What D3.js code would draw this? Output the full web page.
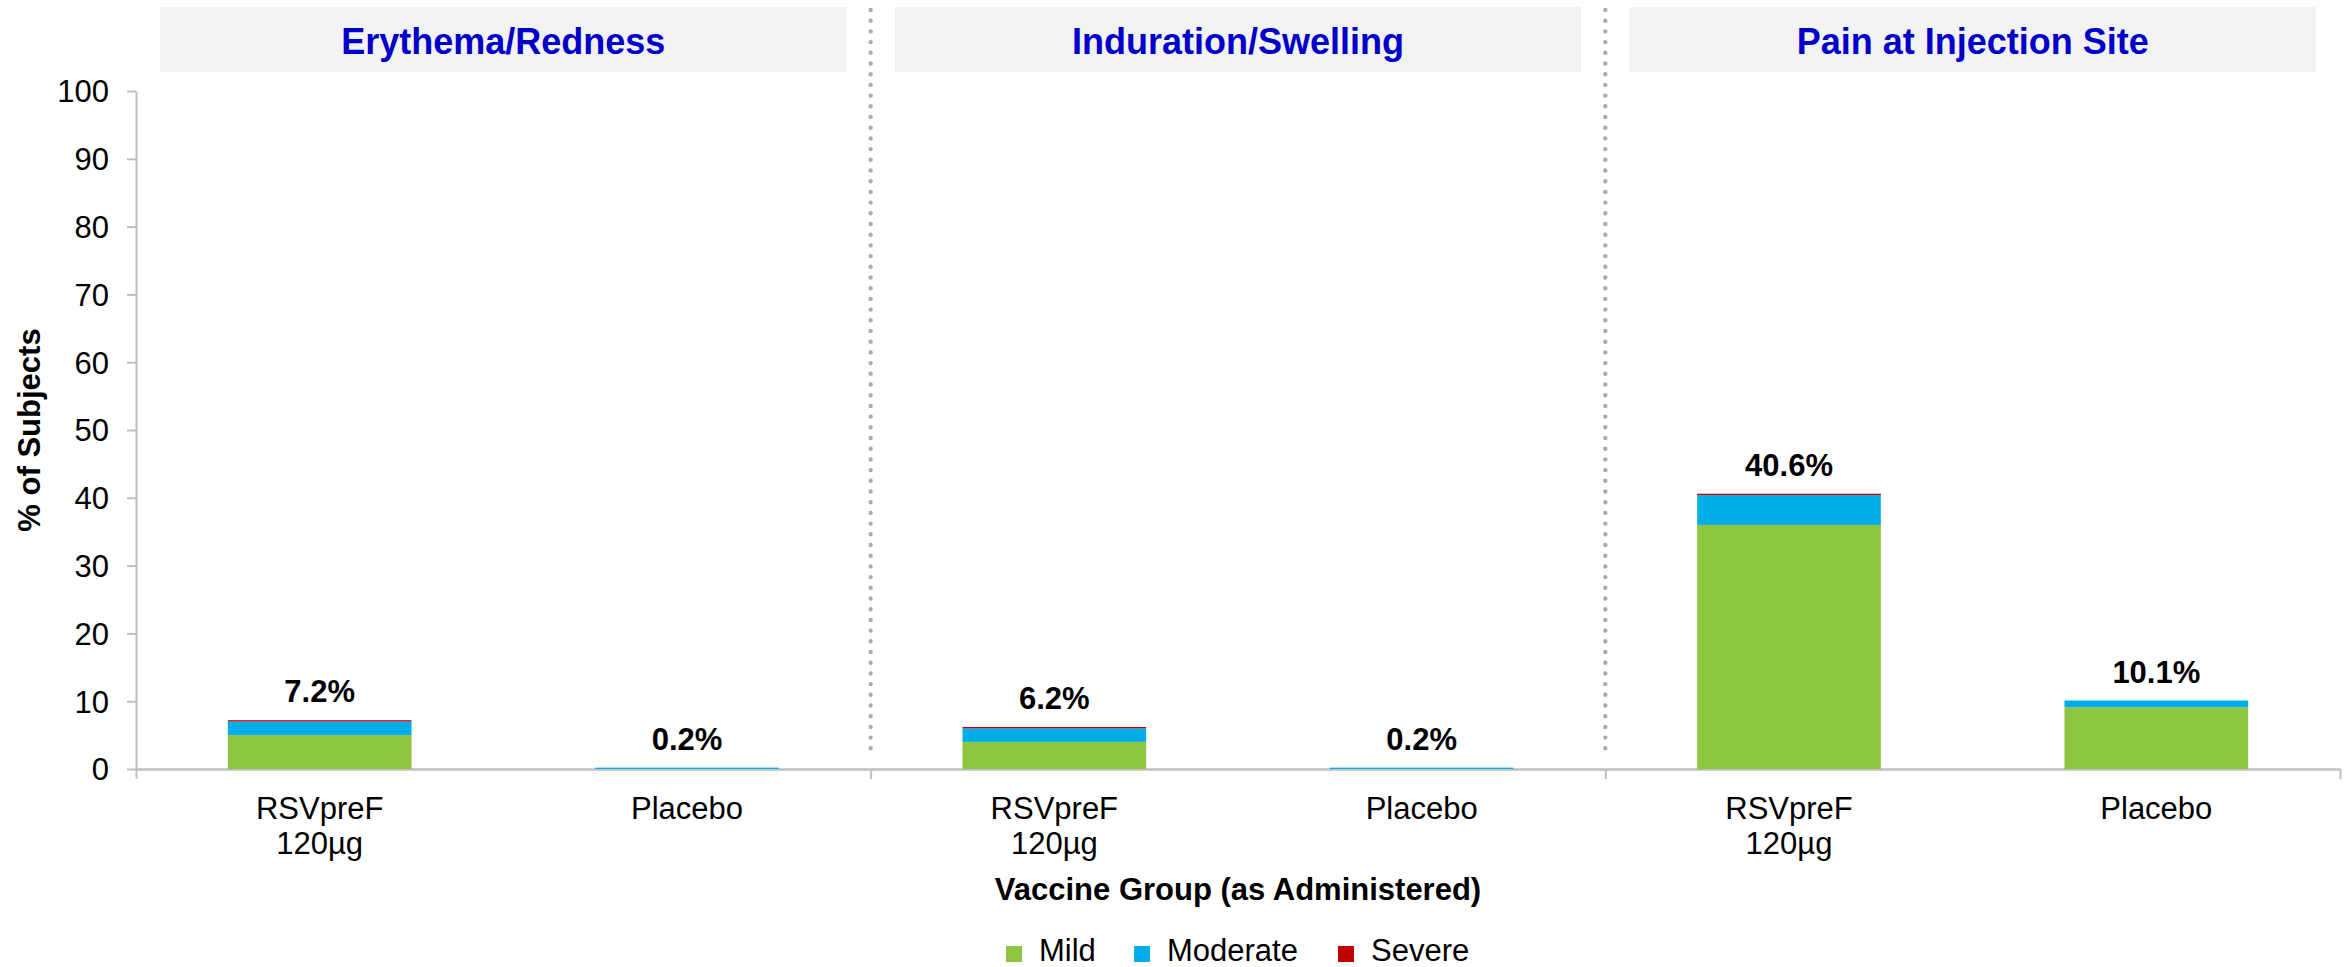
<!DOCTYPE html>
<html>
<head>
<meta charset="utf-8">
<script src="https://cdn.jsdelivr.net/npm/d3@7"></script>
<style>
  html, body { margin: 0; padding: 0; background: #ffffff; }
  svg { display: block; font-family: "Liberation Sans", Arial, sans-serif; }
</style>
</head>
<body>
<svg id="chart" width="2346" height="967"></svg>
<script>
// ---- Data ----
const panels = ["Erythema/Redness", "Induration/Swelling", "Pain at Injection Site"];
const groups = ["RSVpreF 120µg", "Placebo"];
const groupLines = [["RSVpreF", "120µg"], ["Placebo"]];
const severities = ["Mild", "Moderate", "Severe"];
const colors = ["#8DC63F", "#00ADE8", "#C00000"];
// values per panel, per group: [Mild, Moderate, Severe]
const mildValues     = [[5.0, 0.0], [4.0, 0.0], [36.0, 9.1]];
const moderateValues = [[2.0, 0.2], [2.0, 0.2], [4.4, 1.0]];
const severeValues   = [[0.2, 0.0], [0.2, 0.0], [0.2, 0.0]];
const totalLabels    = [["7.2%", "0.2%"], ["6.2%", "0.2%"], ["40.6%", "10.1%"]];
const yTicks = [0, 10, 20, 30, 40, 50, 60, 70, 80, 90, 100];
const yTitle = "% of Subjects";
const xTitle = "Vaccine Group (as Administered)";

// ---- Layout ----
const svg = d3.select("#chart");
const x0 = 136, x1 = 2340, yTop = 91, yBase = 769;
const FONT = 31;

const y = d3.scaleLinear().domain([0, 100]).range([yBase, yTop]);
const px = d3.scaleBand().domain(panels).range([x0, x1]).padding(0);
const gx = d3.scaleBand().domain(groups).range([0, px.bandwidth()]).paddingInner(0.5).paddingOuter(0.25);
const color = d3.scaleOrdinal().domain(severities).range(colors);

// Panel headers
panels.forEach((p, i) => {
  const cx = px(p) + px.bandwidth() / 2;
  svg.append("rect").attr("x", cx - 343).attr("y", 7).attr("width", 686).attr("height", 65)
     .attr("fill", "#F2F2F2");
  svg.append("text").attr("x", cx).attr("y", 54).attr("text-anchor", "middle")
     .attr("font-size", 36).attr("font-weight", "bold").attr("fill", "#0000C8").text(p);
});

// Dotted dividers
panels.slice(1).forEach(p => {
  svg.append("line").attr("x1", px(p)).attr("x2", px(p)).attr("y1", 10).attr("y2", 758)
     .attr("stroke", "#ABABAB").attr("stroke-width", 4.4).attr("stroke-linecap", "round")
     .attr("stroke-dasharray", "0 10.7");
});

// Y axis
const yAxis = d3.axisLeft(y).tickValues(yTicks).tickSize(9).tickPadding(18).tickSizeOuter(0);
const yg = svg.append("g").attr("transform", `translate(${x0},0)`).call(yAxis);
yg.select(".domain").attr("stroke", "#BFBFBF").attr("stroke-width", 2);
yg.selectAll(".tick line").attr("stroke", "#BFBFBF").attr("stroke-width", 2);
yg.selectAll(".tick text").attr("font-size", FONT).attr("fill", "#000")
  .attr("font-family", "'Liberation Sans', Arial, sans-serif").attr("dy", "0.35em");

// X axis baseline with panel boundary ticks
const boundaries = panels.map(p => px(p)).concat([x1]);
const xAxisScale = d3.scaleLinear().domain([x0, x1]).range([x0, x1]);
const xg = svg.append("g").attr("transform", `translate(0,${yBase})`)
  .call(d3.axisBottom(xAxisScale).tickValues(boundaries).tickSize(10).tickSizeOuter(0).tickFormat(""));
xg.select(".domain").attr("stroke", "#BFBFBF").attr("stroke-width", 2.5);
xg.selectAll(".tick line").attr("stroke", "#BFBFBF").attr("stroke-width", 2);

// Bars
panels.forEach((p, pi) => {
  groups.forEach((g, gi) => {
    const vals = [mildValues[pi][gi], moderateValues[pi][gi], severeValues[pi][gi]];
    const bx = px(p) + gx(g);
    let cum = 0;
    vals.forEach((v, si) => {
      if (v > 0) {
        svg.append("rect").attr("x", bx).attr("width", gx.bandwidth())
          .attr("y", y(cum + v)).attr("height", y(cum) - y(cum + v))
          .attr("fill", color(severities[si]));
      }
      cum += v;
    });
    const total = d3.sum(vals);
    svg.append("text").attr("x", bx + gx.bandwidth() / 2).attr("y", y(total) - 18)
      .attr("text-anchor", "middle").attr("font-size", FONT).attr("font-weight", "bold")
      .attr("fill", "#000").text(totalLabels[pi][gi]);
    // Category labels
    groupLines[gi].forEach((line, li) => {
      svg.append("text").attr("x", bx + gx.bandwidth() / 2).attr("y", 819 + li * 35)
        .attr("text-anchor", "middle").attr("font-size", FONT).attr("fill", "#000").text(line);
    });
  });
});

// Axis titles
svg.append("text").attr("transform", `translate(40,${430}) rotate(-90)`)
  .attr("text-anchor", "middle").attr("font-size", FONT).attr("font-weight", "bold")
  .attr("fill", "#000").text(yTitle);
svg.append("text").attr("x", (x0 + x1) / 2).attr("y", 900)
  .attr("text-anchor", "middle").attr("font-size", FONT).attr("font-weight", "bold")
  .attr("fill", "#000").text(xTitle);

// Legend
const legendX = [1006, 1134, 1338];
severities.forEach((s, i) => {
  svg.append("rect").attr("x", legendX[i]).attr("y", 946).attr("width", 16).attr("height", 16)
    .attr("fill", color(s));
  svg.append("text").attr("x", legendX[i] + 33).attr("y", 961).attr("font-size", FONT)
    .attr("fill", "#000").text(s);
});
</script>
</body>
</html>
